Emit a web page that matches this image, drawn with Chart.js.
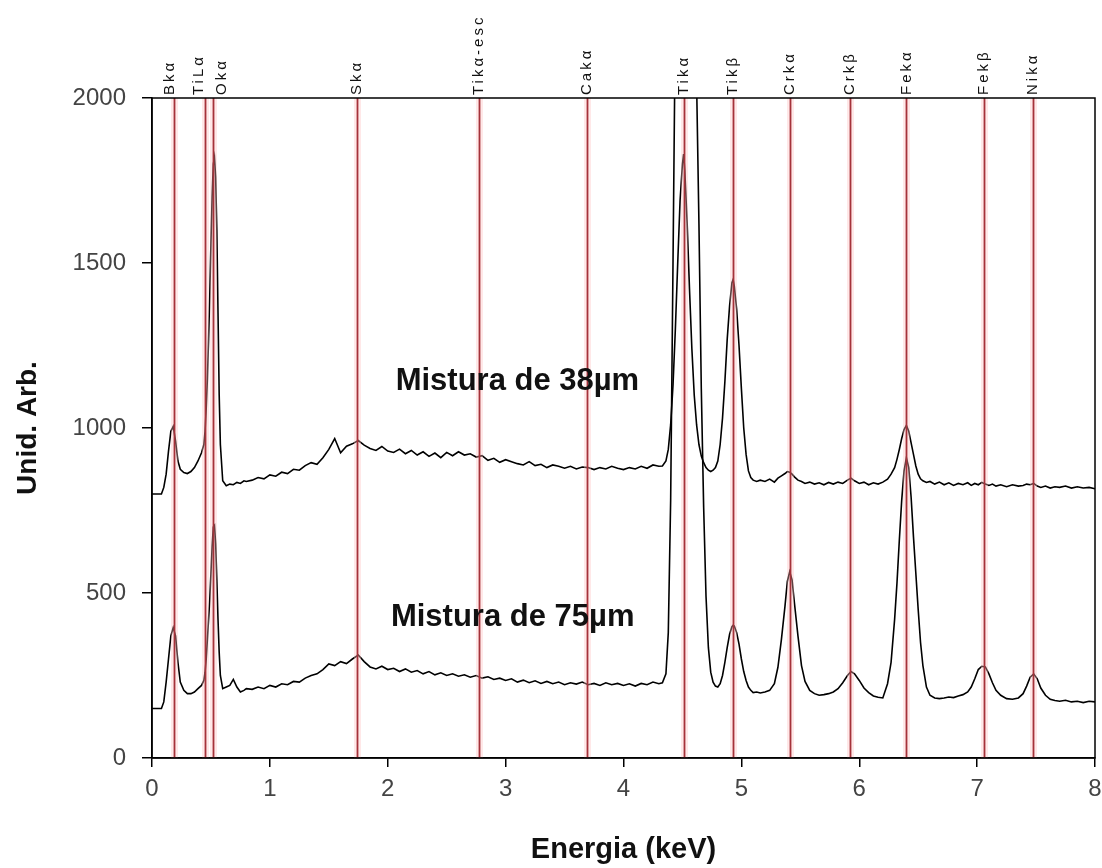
<!DOCTYPE html>
<html>
<head>
<meta charset="utf-8">
<script src="https://cdn.jsdelivr.net/npm/chart.js@4.4.1/dist/chart.umd.min.js"></script>
<style>
html,body{margin:0;padding:0;background:#fff;}
#wrap{width:1102px;height:868px;}
</style>
</head>
<body>
<div id="wrap"><canvas id="c" width="1102" height="868"></canvas></div>
<script>
// ---- data ----
const energies = [
  0.00,0.04,0.08,0.10,0.12,0.14,0.16,0.18,0.20,0.22,
  0.24,0.27,0.30,0.33,0.36,0.39,0.42,0.44,0.45,0.46,
  0.47,0.48,0.49,0.50,0.51,0.52,0.53,0.54,0.55,0.56,
  0.57,0.58,0.60,0.63,0.66,0.69,0.72,0.75,0.78,0.80,
  0.85,0.90,0.95,1.00,1.05,1.10,1.15,1.20,1.25,1.30,
  1.35,1.40,1.45,1.50,1.55,1.60,1.65,1.70,1.75,1.80,
  1.85,1.90,1.95,2.00,2.05,2.10,2.15,2.20,2.25,2.30,
  2.35,2.40,2.45,2.50,2.55,2.60,2.65,2.70,2.75,2.80,
  2.85,2.90,2.95,3.00,3.05,3.10,3.15,3.20,3.25,3.30,
  3.35,3.40,3.45,3.50,3.55,3.60,3.65,3.70,3.75,3.80,
  3.85,3.90,3.95,4.00,4.05,4.10,4.15,4.20,4.25,4.30,
  4.33,4.36,4.38,4.40,4.42,4.44,4.46,4.48,4.50,4.51,
  4.52,4.54,4.56,4.58,4.60,4.62,4.64,4.66,4.68,4.70,
  4.72,4.74,4.76,4.78,4.80,4.82,4.84,4.86,4.88,4.90,
  4.92,4.93,4.94,4.96,4.98,5.00,5.02,5.04,5.06,5.08,
  5.10,5.13,5.16,
  5.20,5.24,5.28,5.31,5.34,5.37,5.39,5.41,5.43,5.45,
  5.48,5.51,5.54,5.58,5.62,5.66,5.70,5.74,5.78,5.82,
  5.86,5.90,5.93,5.96,6.00,6.04,6.08,6.12,6.16,6.20,
  6.24,6.27,6.30,6.32,6.34,6.36,6.38,6.40,6.42,6.44,
  6.46,6.48,6.50,6.52,6.54,6.57,6.60,6.64,6.68,6.72,
  6.76,6.80,6.84,6.88,6.92,6.95,6.98,7.01,7.04,7.07,
  7.10,7.13,7.16,7.20,7.25,7.30,7.35,7.39,7.42,7.45,
  7.48,7.51,7.54,7.58,7.62,7.66,7.70,7.75,7.80,7.85,
  7.90,7.95,8.00
];

const mistura38 = [
  800,800,800,820,860,930,990,1005,960,900,
  875,865,862,868,880,900,925,950,990,1060,
  1150,1270,1400,1560,1700,1800,1820,1760,1600,1350,
  1100,950,840,825,830,828,835,832,840,838,
  842,850,846,858,854,866,862,875,872,886,
  895,890,910,935,968,925,945,952,962,948,
  938,932,944,930,926,936,922,932,918,928,
  914,924,910,926,916,928,918,922,912,916,
  902,908,896,904,898,892,888,898,886,890,
  880,888,884,878,884,876,882,880,874,880,
  876,884,878,874,880,876,884,878,888,884,
  885,900,935,1010,1130,1300,1500,1690,1800,1830,
  1780,1620,1420,1240,1100,1010,950,915,895,880,
  872,868,872,880,900,950,1030,1140,1270,1370,
  1440,1450,1430,1360,1250,1120,1000,920,870,850,
  842,838,842,
  838,845,836,848,855,862,868,866,860,852,
  842,838,832,836,830,834,828,835,830,836,
  832,842,848,840,832,836,828,834,830,836,
  845,860,880,905,935,968,995,1008,990,955,
  920,885,860,846,840,835,838,830,836,828,
  834,826,832,828,834,826,832,828,835,830,
  826,830,824,828,822,828,824,826,830,828,
  832,824,820,824,818,822,820,824,818,822,
  818,820,816
];

const mistura75 = [
  150,150,150,170,230,300,370,395,370,290,
  230,205,195,195,200,210,220,235,260,300,
  360,420,480,560,640,700,705,650,540,420,
  320,250,210,215,220,238,215,200,205,210,
  208,215,210,220,215,225,222,232,230,242,
  250,255,268,285,280,292,286,300,312,292,
  276,270,278,268,272,262,270,260,265,255,
  262,252,258,250,255,248,252,245,250,242,
  246,238,242,235,240,230,236,228,234,226,
  232,225,230,222,228,224,230,222,226,220,
  228,222,226,220,225,218,226,222,230,225,
  228,255,380,780,1500,2250,2750,3050,3150,3170,
  3150,3000,2800,2550,2300,2050,1620,1120,760,490,
  335,260,230,218,215,225,250,290,335,375,
  398,402,400,380,345,300,262,235,215,205,
  198,200,197,
  200,205,225,275,360,460,535,565,540,470,
  370,280,232,205,195,190,192,195,200,210,
  228,250,262,255,235,212,198,188,184,182,
  225,290,420,530,660,780,870,910,880,790,
  670,560,450,350,280,215,190,182,180,182,
  185,183,188,192,200,215,240,268,278,276,
  255,228,205,190,180,178,182,195,218,245,
  255,240,212,190,178,174,172,175,170,172,
  168,172,170
];

const seriesNames = ['Mistura de 38\u00b5m', 'Mistura de 75\u00b5m'];
const seriesLabelEnergy = [3.10, 3.06];
const seriesLabelCounts = [1142, 427];

const peakEnergies = [0.19, 0.45, 0.52, 1.74, 2.77, 3.69, 4.51, 4.93, 5.41, 5.92, 6.40, 7.06, 7.47];
const peakLabels = ['Bk\u03b1', 'TiL\u03b1', 'Ok\u03b1', 'Sk\u03b1', 'Tik\u03b1-esc', 'Cak\u03b1', 'Tik\u03b1', 'Tik\u03b2', 'Crk\u03b1', 'Crk\u03b2', 'Fek\u03b1', 'Fek\u03b2', 'Nik\u03b1'];

const xTickValues = [0, 1, 2, 3, 4, 5, 6, 7, 8];
const yTickValues = [0, 500, 1000, 1500, 2000];

const xTitle = 'Energia (keV)';
const yTitle = 'Unid. Arb.';

if (energies.length !== mistura38.length || energies.length !== mistura75.length) {
  console.error('length mismatch', energies.length, mistura38.length, mistura75.length);
}

// ---- chart ----
const FONT = '"Liberation Sans", Arial, Helvetica, sans-serif';
const labelShift = {'Bk\u03b1': -5, 'TiL\u03b1': -6, 'Ok\u03b1': 9};

const overlay = {
  id: 'overlay',
  afterDatasetsDraw(chart) {
    const {ctx, chartArea: a, scales: {x, y}} = chart;
    ctx.save();
    // reference lines
    peakEnergies.forEach(e => {
      const px = Math.round(x.getPixelForValue(e)) + 0.5;
      ctx.beginPath();
      ctx.strokeStyle = 'rgba(255,190,190,0.35)';
      ctx.lineWidth = 7;
      ctx.moveTo(px, y.getPixelForValue(2000));
      ctx.lineTo(px, y.getPixelForValue(0));
      ctx.stroke();
      ctx.beginPath();
      ctx.strokeStyle = '#a5323a';
      ctx.lineWidth = 1.8;
      ctx.moveTo(px, y.getPixelForValue(2000));
      ctx.lineTo(px, y.getPixelForValue(0));
      ctx.stroke();
    });
    // frame
    ctx.strokeStyle = '#000';
    ctx.lineWidth = 1.5;
    ctx.strokeRect(a.left, a.top, a.right - a.left, a.bottom - a.top);
    // peak labels (rotated)
    ctx.fillStyle = '#111';
    ctx.font = '15px ' + FONT;
    try { ctx.letterSpacing = '3px'; } catch (err) {}
    peakLabels.forEach((t, i) => {
      const px = x.getPixelForValue(peakEnergies[i]) + (labelShift[t] || 0);
      ctx.save();
      ctx.translate(px, a.top - 3);
      ctx.rotate(-Math.PI / 2);
      ctx.textAlign = 'left';
      ctx.textBaseline = 'middle';
      ctx.fillText(t, 0, 0);
      ctx.restore();
    });
    try { ctx.letterSpacing = '0px'; } catch (err) {}
    // series annotations
    ctx.font = 'bold 31px ' + FONT;
    ctx.fillStyle = '#111';
    ctx.textAlign = 'center';
    ctx.textBaseline = 'middle';
    seriesNames.forEach((t, i) => {
      ctx.fillText(t, x.getPixelForValue(seriesLabelEnergy[i]), y.getPixelForValue(seriesLabelCounts[i]));
    });
    ctx.restore();
  }
};

const mk = vals => energies.map((e, i) => ({x: e, y: vals[i]}));

new Chart(document.getElementById('c'), {
  type: 'line',
  data: {
    datasets: [
      {label: seriesNames[0], data: mk(mistura38), borderColor: '#000', borderWidth: 1.6, pointRadius: 0, tension: 0, fill: false},
      {label: seriesNames[1], data: mk(mistura75), borderColor: '#000', borderWidth: 1.6, pointRadius: 0, tension: 0, fill: false}
    ]
  },
  options: {
    responsive: false,
    animation: false,
    devicePixelRatio: 1,
    layout: {padding: {left: 0, top: 98, right: 7, bottom: 0}},
    plugins: {legend: {display: false}, tooltip: {enabled: false}},
    scales: {
      x: {
        type: 'linear', min: 0, max: 8,
        afterBuildTicks: s => { s.ticks = xTickValues.map(v => ({value: v})); },
        afterFit: s => { s.height = 110; s.paddingLeft = 0; s.paddingRight = 0; },
        grid: {display: true, drawOnChartArea: false, drawTicks: true, tickLength: 9, color: '#000', lineWidth: 1.5},
        border: {display: true, color: '#000', width: 1.5},
        ticks: {color: '#444', font: {family: FONT, size: 24}, padding: 8, maxRotation: 0, callback: v => String(v)},
        title: {display: true, text: xTitle, color: '#111', font: {family: FONT, size: 29, weight: 'bold'}, padding: {top: 0, bottom: 1}}
      },
      y: {
        type: 'linear', min: 0, max: 2000,
        afterBuildTicks: s => { s.ticks = yTickValues.map(v => ({value: v})); },
        afterFit: s => { s.width = 152; s.paddingTop = 0; s.paddingBottom = 0; },
        grid: {display: true, drawOnChartArea: false, drawTicks: true, tickLength: 10, color: '#000', lineWidth: 1.5},
        border: {display: true, color: '#000', width: 1.5},
        ticks: {color: '#444', font: {family: FONT, size: 24}, padding: 16, callback: v => String(v)},
        title: {display: true, text: yTitle, color: '#111', font: {family: FONT, size: 28, weight: 'bold'}, padding: {top: 11, bottom: 0}}
      }
    }
  },
  plugins: [overlay]
});
</script>
</body>
</html>
